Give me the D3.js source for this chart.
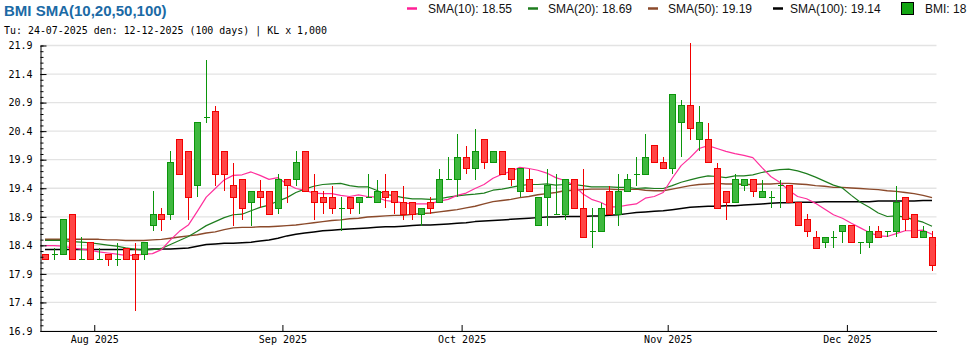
<!DOCTYPE html>
<html>
<head>
<meta charset="utf-8">
<script src="https://cdn.jsdelivr.net/npm/d3@7"></script>
<style>
  html, body { margin: 0; padding: 0; background: #fff; overflow: hidden; }
  svg { display: block; }
</style>
</head>
<body>
<svg id="chart" width="970" height="350"></svg>
<script>
// ---- data -------------------------------------------------------------
const symbol = "BMI";
const firstDay = "2025-07-24";
const lastDay = "2025-12-12";
const holidays = ["2025-09-01", "2025-09-02"];

const open = [18.2,18.2,18.2,18.9,18.1,18.4,18.1,18.2,18.1,18.3,
  18.2,18.2,18.7,18.9,18.9,20.2,20.0,19.4,20.6,20.7,
  20.0,19.4,19.5,19.1,19.3,19.3,19.0,19.5,19.5,20.0,
  19.3,19.2,19.2,19.0,19.2,19.1,19.2,19.1,19.3,19.3,
  19.1,19.1,18.9,19.1,19.1,19.5,19.5,19.9,19.7,20.2,
  19.8,20.0,19.7,19.3,19.5,18.7,19.2,18.9,18.9,19.5,
  19.0,18.6,18.6,19.3,18.9,19.3,19.6,19.6,20.1,19.8,
  19.7,20.5,20.8,20.2,20.2,19.7,19.3,19.1,19.4,19.5,
  19.2,19.2,19.4,19.4,19.1,18.8,18.5,18.4,18.5,18.6,
  18.7,18.4,18.4,18.6,18.6,18.6,19.2,18.9,18.5,18.5];

const high = [18.2,18.3,18.8,18.9,18.5,18.4,18.3,18.2,18.4,18.3,
  18.4,18.4,19.3,19.0,20.0,20.2,20.0,20.5,21.6,20.8,
  20.0,19.8,19.5,19.3,19.5,19.3,19.6,19.5,20.0,20.0,
  19.6,19.3,19.4,19.2,19.2,19.2,19.6,19.5,19.6,19.3,
  19.4,19.1,19.0,19.2,19.7,19.9,20.3,20.1,20.4,20.2,
  20.0,20.0,19.7,19.7,19.7,19.2,19.7,19.6,19.5,19.5,
  19.7,19.0,19.1,19.4,19.6,19.6,19.9,20.3,20.1,19.9,
  21.0,20.9,21.9,20.8,20.5,19.8,19.3,19.6,19.5,19.5,
  19.5,19.3,19.5,19.4,19.1,18.9,18.6,18.5,18.6,18.7,
  18.7,18.4,18.7,18.7,18.6,19.4,19.2,18.9,18.7,18.6];

const low = [18.1,18.1,18.2,18.1,18.1,18.1,18.1,18.0,18.0,18.1,
  17.2,18.1,18.6,18.6,18.8,19.6,18.8,19.2,20.5,19.4,
  19.3,18.7,18.8,18.7,19.0,18.9,18.9,19.1,19.4,19.3,
  18.8,18.9,18.9,18.6,18.9,18.9,19.2,19.1,19.0,18.9,
  18.8,18.8,18.7,18.9,19.1,19.5,19.2,19.6,19.5,19.7,
  19.8,19.6,19.4,19.2,19.3,18.7,18.7,18.9,18.8,19.0,
  18.5,18.3,18.6,18.9,18.7,19.3,19.4,19.6,19.8,19.7,
  19.6,19.9,20.2,20.0,19.8,19.0,18.8,19.1,19.3,19.2,
  19.2,19.0,19.0,19.1,18.7,18.5,18.3,18.3,18.3,18.4,
  18.4,18.2,18.3,18.5,18.5,18.5,18.6,18.5,18.5,17.9];

const close = [18.1,18.2,18.8,18.1,18.1,18.1,18.1,18.1,18.1,18.1,
  18.1,18.4,18.9,18.8,19.8,19.6,19.2,20.5,20.6,19.6,
  19.6,19.2,19.0,19.3,19.2,18.9,19.5,19.4,19.8,19.3,
  19.1,19.1,19.0,19.0,19.0,19.2,19.2,19.3,19.2,19.1,
  18.9,18.9,19.0,19.0,19.5,19.5,19.9,19.7,20.0,19.8,
  20.0,19.6,19.5,19.7,19.3,19.2,19.4,18.9,19.5,19.0,
  18.5,18.6,19.0,18.9,19.3,19.5,19.6,19.9,19.8,19.7,
  21.0,20.8,20.4,20.5,19.8,19.0,19.1,19.5,19.5,19.3,
  19.3,19.2,19.4,19.1,18.7,18.6,18.3,18.5,18.5,18.7,
  18.4,18.4,18.6,18.5,18.6,19.1,18.8,18.5,18.6,18.0];

const sma10 = [18.35,18.35,18.34,18.31,18.29,18.27,18.24,18.22,18.20,18.18,
  18.18,18.20,18.21,18.28,18.45,18.60,18.71,18.95,19.20,19.35,
  19.50,19.58,19.59,19.64,19.58,19.51,19.54,19.43,19.35,19.32,
  19.27,19.26,19.26,19.23,19.21,19.24,19.21,19.20,19.14,19.12,
  19.10,19.08,19.08,19.08,19.13,19.16,19.23,19.27,19.35,19.42,
  19.53,19.60,19.65,19.72,19.70,19.67,19.62,19.54,19.49,19.41,
  19.26,19.16,19.11,19.03,19.03,19.06,19.08,19.18,19.21,19.28,
  19.53,19.75,19.89,20.05,20.10,20.05,20.00,19.96,19.93,19.89,
  19.72,19.56,19.46,19.32,19.21,19.17,19.09,18.99,18.89,18.83,
  18.74,18.66,18.58,18.52,18.51,18.56,18.61,18.61,18.62,18.55];

const sma20 = [18.44,18.44,18.44,18.42,18.41,18.40,18.38,18.36,18.34,18.31,
  18.29,18.27,18.28,18.30,18.37,18.44,18.51,18.60,18.70,18.77,
  18.84,18.89,18.90,18.96,19.02,19.06,19.13,19.19,19.28,19.34,
  19.39,19.42,19.43,19.44,19.40,19.38,19.38,19.32,19.25,19.22,
  19.19,19.17,19.17,19.16,19.17,19.20,19.22,19.24,19.25,19.27,
  19.32,19.34,19.37,19.40,19.42,19.42,19.43,19.41,19.42,19.42,
  19.40,19.38,19.38,19.38,19.37,19.37,19.35,19.36,19.35,19.35,
  19.40,19.46,19.50,19.54,19.57,19.56,19.54,19.57,19.57,19.59,
  19.63,19.66,19.68,19.69,19.66,19.61,19.55,19.48,19.41,19.36,
  19.23,19.11,19.02,18.92,18.86,18.87,18.85,18.80,18.76,18.69];

const sma50 = [18.46,18.46,18.46,18.46,18.46,18.46,18.46,18.45,18.45,18.44,
  18.44,18.44,18.45,18.46,18.48,18.50,18.52,18.54,18.57,18.59,
  18.63,18.66,18.67,18.67,18.68,18.68,18.69,18.70,18.71,18.73,
  18.75,18.77,18.79,18.80,18.82,18.83,18.85,18.86,18.87,18.88,
  18.88,18.90,18.91,18.92,18.94,18.96,18.98,19.01,19.04,19.08,
  19.12,19.14,19.16,19.19,19.21,19.24,19.26,19.28,19.31,19.32,
  19.33,19.34,19.34,19.34,19.33,19.33,19.34,19.32,19.31,19.31,
  19.34,19.37,19.40,19.42,19.43,19.44,19.43,19.43,19.42,19.42,
  19.43,19.43,19.44,19.44,19.43,19.42,19.40,19.39,19.37,19.37,
  19.36,19.35,19.34,19.33,19.31,19.30,19.28,19.26,19.23,19.19];

const sma100 = [18.28,18.28,18.28,18.28,18.28,18.28,18.28,18.28,18.28,18.28,
  18.28,18.28,18.29,18.29,18.29,18.30,18.31,18.34,18.37,18.38,
  18.39,18.39,18.40,18.41,18.43,18.45,18.48,18.52,18.55,18.57,
  18.59,18.61,18.62,18.63,18.64,18.65,18.66,18.67,18.68,18.68,
  18.69,18.70,18.71,18.71,18.72,18.73,18.74,18.75,18.77,18.78,
  18.79,18.80,18.81,18.82,18.83,18.84,18.85,18.85,18.86,18.86,
  18.86,18.87,18.87,18.88,18.89,18.91,18.93,18.94,18.95,18.96,
  18.98,19.00,19.02,19.03,19.04,19.04,19.05,19.05,19.06,19.07,
  19.08,19.09,19.10,19.10,19.11,19.11,19.11,19.12,19.12,19.12,
  19.12,19.12,19.12,19.13,19.13,19.13,19.13,19.13,19.14,19.14];

const yMajorTicks = [16.9, 17.4, 17.9, 18.4, 18.9, 19.4, 19.9, 20.4, 20.9, 21.4, 21.9];

// ---- trading calendar -------------------------------------------------
const parseDay = d3.utcParse("%Y-%m-%d");
const isoDay = d3.utcFormat("%Y-%m-%d");
const days = d3.utcDay.range(parseDay(firstDay), d3.utcDay.offset(parseDay(lastDay), 1))
  .filter(d => d.getUTCDay() % 6 !== 0 && !holidays.includes(isoDay(d)));

// ---- layout ------------------------------------------------------------
const plot = { left: 40.5, right: 936.5, top: 45.5, bottom: 331 };
const priceLift = -2.6;   // price layer drawn half a tick above the grid

const svg = d3.select("#chart");
const x = d3.scaleLinear().domain([-0.5, days.length - 0.5]).range([plot.left, plot.right]);
const y = d3.scaleLinear().domain([16.9, 21.9]).range([plot.bottom, plot.top]);

const mono = "'DejaVu Sans Mono', 'Liberation Mono', monospace";
const sans = "'Liberation Sans', Arial, sans-serif";

// title + subtitle
svg.append("text")
  .attr("x", 4).attr("y", 15.5)
  .attr("font-family", sans).attr("font-weight", "bold").attr("font-size", 15)
  .attr("fill", "#1b6aa5")
  .text(`${symbol} SMA(10,20,50,100)`);

const dmy = d3.utcFormat("%d-%m-%Y");
svg.append("text")
  .attr("x", 4).attr("y", 34)
  .attr("font-family", mono).attr("font-size", 10)
  .attr("textLength", 323).attr("lengthAdjust", "spacingAndGlyphs")
  .attr("fill", "#000")
  .text(`Tu: ${dmy(days[0])} den: ${dmy(days[days.length - 1])} (${days.length} days) | KL x 1,000`);

// grid
svg.append("g").selectAll("line").data(yMajorTicks).join("line")
  .attr("x1", plot.left).attr("x2", plot.right)
  .attr("y1", d => y(d)).attr("y2", d => y(d))
  .attr("stroke", "#e3e3e3").attr("stroke-width", 1.3);

// moving averages
const series = [
  { name: "SMA(100)", values: sma100, color: "#000000", width: 1.5 },
  { name: "SMA(50)",  values: sma50,  color: "#8b4a2b", width: 1.4 },
  { name: "SMA(20)",  values: sma20,  color: "#1e7d1e", width: 1.2 },
  { name: "SMA(10)",  values: sma10,  color: "#ff2f9c", width: 1.2 }
];
const priceLayer = svg.append("g").attr("transform", `translate(0,${priceLift})`);
const line = d3.line().x((d, i) => x(i)).y(d => y(d));
priceLayer.append("g").selectAll("path").data(series).join("path")
  .attr("d", s => line(s.values))
  .attr("fill", "none")
  .attr("stroke", s => s.color)
  .attr("stroke-width", s => s.width)
  .attr("stroke-linejoin", "round");

// candles
const candles = days.map((d, i) => ({ i, o: open[i], h: high[i], l: low[i], c: close[i] }));
const upStroke = "#0b950b", upFill = "#3fb83f";
const dnStroke = "#f20000", dnFill = "#ff4545";
const cg = priceLayer.append("g").attr("shape-rendering", "crispEdges");
const cx = d => Math.round(x(d.i)) + 0.5;
const isUp = d => d.c >= d.o;

cg.selectAll("line.wick").data(candles).join("line")
  .attr("class", "wick")
  .attr("x1", cx).attr("x2", cx)
  .attr("y1", d => y(d.h)).attr("y2", d => y(d.l))
  .attr("stroke", d => isUp(d) ? upStroke : dnStroke)
  .attr("stroke-width", 1);

cg.selectAll("rect.body").data(candles.filter(d => d.c !== d.o)).join("rect")
  .attr("class", "body")
  .attr("x", d => cx(d) - 3)
  .attr("width", 6)
  .attr("y", d => y(Math.max(d.o, d.c)))
  .attr("height", d => y(Math.min(d.o, d.c)) - y(Math.max(d.o, d.c)))
  .attr("fill", d => isUp(d) ? upFill : dnFill)
  .attr("stroke", d => isUp(d) ? upStroke : dnStroke)
  .attr("stroke-width", 1);

cg.selectAll("line.doji").data(candles.filter(d => d.c === d.o)).join("line")
  .attr("class", "doji")
  .attr("x1", d => cx(d) - 3).attr("x2", d => cx(d) + 3)
  .attr("y1", d => y(d.o)).attr("y2", d => y(d.o))
  .attr("stroke", upStroke).attr("stroke-width", 1);

// y axis: majors with labels, minors every 0.1
const yAxis = svg.append("g").attr("transform", `translate(${plot.left},0)`)
  .call(d3.axisLeft(y).tickValues(yMajorTicks).tickSize(-6).tickSizeOuter(0)
    .tickPadding(8).tickFormat(d3.format(".1f")));
svg.append("g").attr("transform", `translate(${plot.left},0)`)
  .call(d3.axisLeft(y).tickValues(d3.range(51).map(k => 16.9 + k * 0.1))
    .tickSize(-3).tickSizeOuter(0).tickFormat(""))
  .call(g => g.select(".domain").remove());

// x axis: month starts on the trading calendar
const monthStarts = days.map((d, i) => i).filter(i => i > 0 && days[i].getUTCMonth() !== days[i - 1].getUTCMonth());
const monthFmt = d3.utcFormat("%b %Y");
const xAxis = svg.append("g").attr("transform", `translate(0,${plot.bottom})`)
  .call(d3.axisBottom(x).tickValues(monthStarts.map(i => i - 0.5)).tickSize(-6).tickSizeOuter(0)
    .tickPadding(5).tickFormat(v => monthFmt(days[v + 0.5])));

[yAxis, xAxis].forEach(g => {
  g.attr("font-family", mono).attr("font-size", 10);
  g.selectAll("text").attr("fill", "#000");
  g.selectAll("line, path").attr("stroke", "#000");
});

// legend
const legend = [
  { label: `SMA(10): ${sma10[sma10.length - 1].toFixed(2)}`,   color: "#ff1f96", x: 407, tx: 428 },
  { label: `SMA(20): ${sma20[sma20.length - 1].toFixed(2)}`,   color: "#1e7d1e", x: 528, tx: 548 },
  { label: `SMA(50): ${sma50[sma50.length - 1].toFixed(2)}`,   color: "#8b4a2b", x: 648, tx: 668 },
  { label: `SMA(100): ${sma100[sma100.length - 1].toFixed(2)}`, color: "#000000", x: 773, tx: 790 }
];
const lg = svg.append("g");
lg.selectAll("line").data(legend).join("line")
  .attr("x1", d => d.x).attr("x2", d => d.x + 10)
  .attr("y1", 8.5).attr("y2", 8.5)
  .attr("stroke", d => d.color).attr("stroke-width", 2.5);
lg.selectAll("text").data(legend).join("text")
  .attr("x", d => d.tx).attr("y", 12.5)
  .attr("font-family", sans).attr("font-size", 12).attr("fill", "#111")
  .text(d => d.label);
lg.append("rect").attr("x", 901.5).attr("y", 2.5).attr("width", 12).attr("height", 12)
  .attr("fill", "#13a513").attr("stroke", "#000").attr("stroke-width", 1);
lg.append("text").attr("x", 925).attr("y", 12.5)
  .attr("font-family", sans).attr("font-size", 12).attr("fill", "#111")
  .text(`${symbol}: ${close[close.length - 1]}`);
</script>
</body>
</html>
